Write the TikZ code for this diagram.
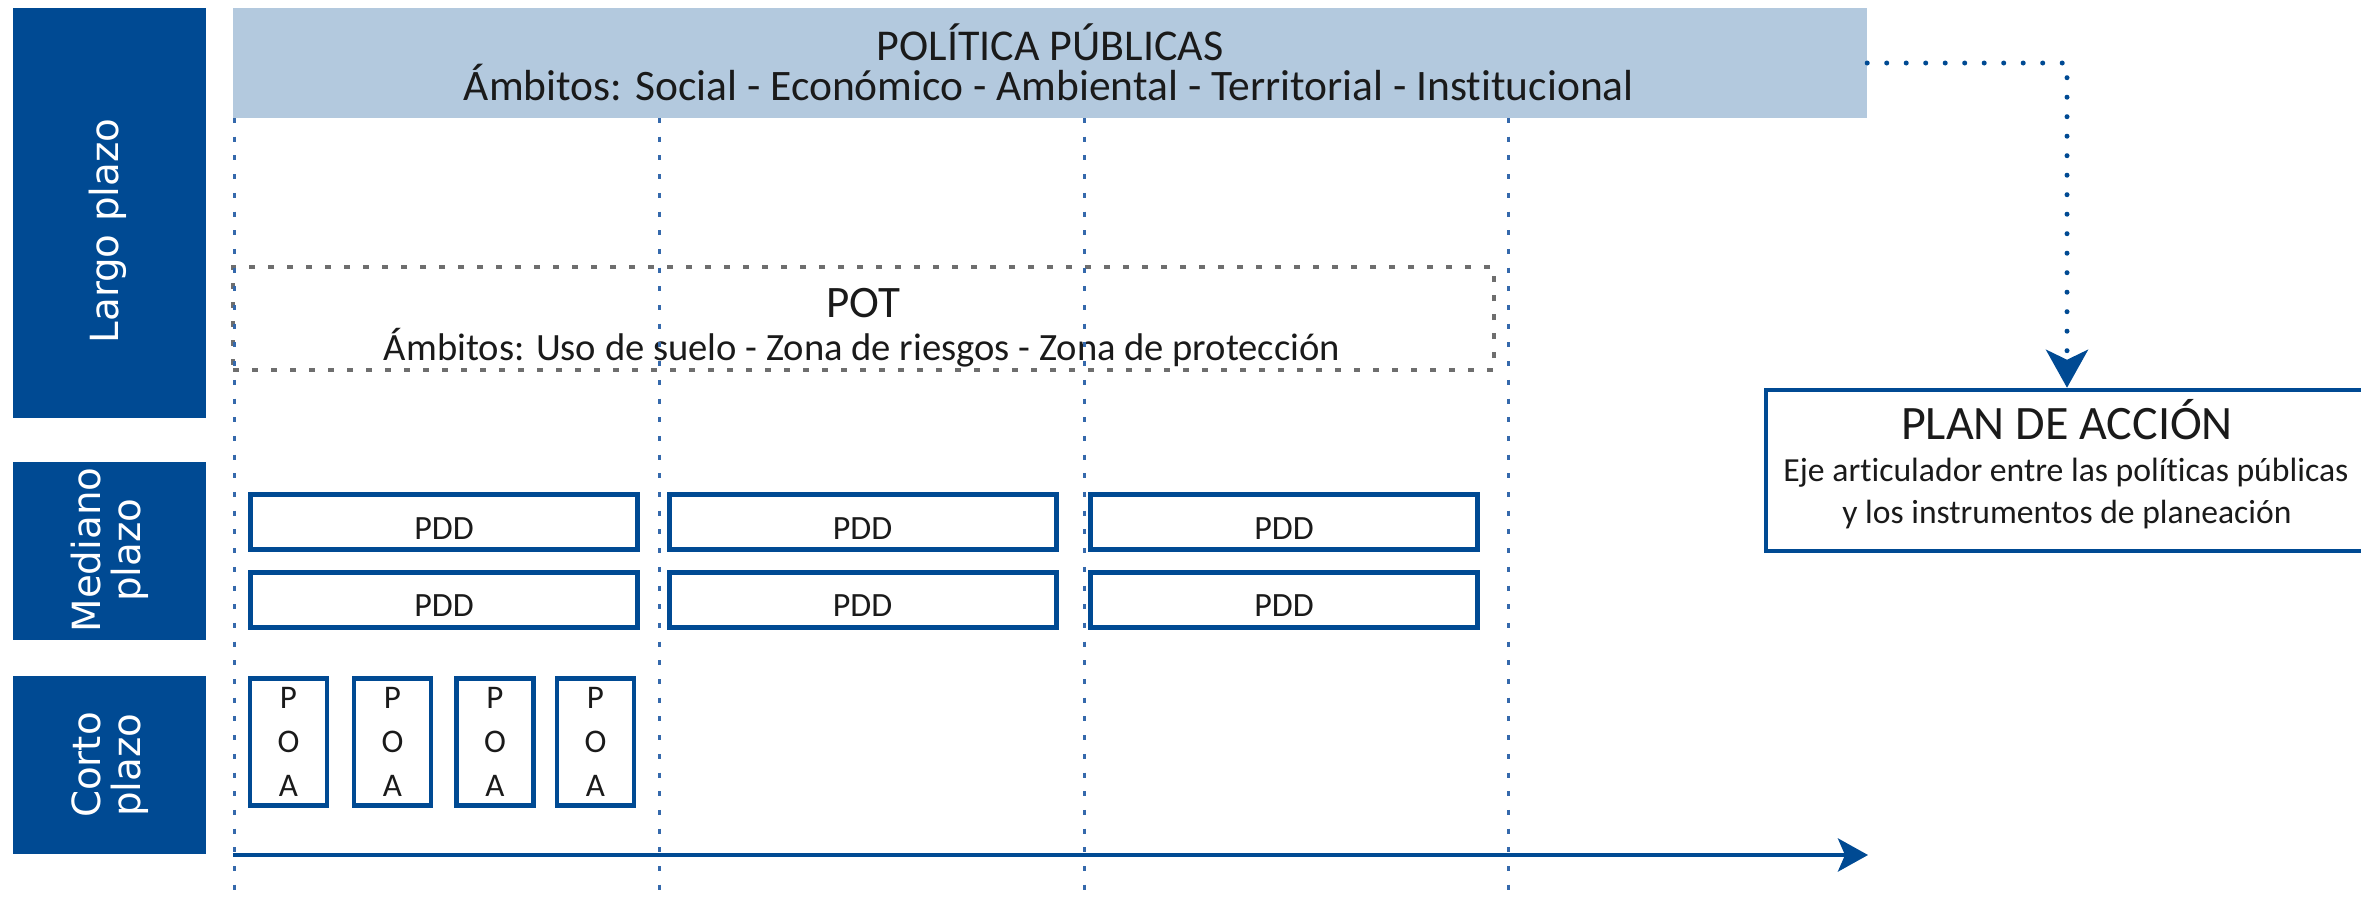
\documentclass[tikz,border=0pt]{standalone}
\usepackage{fontspec}
\setmainfont{Carlito}[Ligatures={NoCommon,NoContextual}]
\newfontfamily\verd{DejaVu Sans}
\usetikzlibrary{arrows.meta}
\definecolor{dblue}{HTML}{004A93}
\definecolor{hblue}{HTML}{B3C9DE}
\definecolor{vblue}{HTML}{3569AC}
\definecolor{potgray}{HTML}{6E6E6E}
\definecolor{txt}{HTML}{1A1A1A}
\begin{document}
\begin{tikzpicture}[x=1pt,y=-1pt,
  sidebox/.style={fill=dblue, inner sep=0pt, minimum width=193pt},
  sidelabel/.style={text=white, rotate=90, inner sep=0pt, align=center, font=\verd\fontsize{38.8}{40}\selectfont},
  pddbox/.style={draw=dblue, line width=5pt, minimum width=387pt, minimum height=55pt, inner sep=0pt, text=txt, text height=34pt, text depth=0pt, font=\fontsize{34}{34}\selectfont},
  poabox/.style={draw=dblue, line width=4.5pt, minimum width=77pt, minimum height=127pt, inner sep=0pt, text=txt, align=center, font=\fontsize{33}{44}\selectfont},
  potbox/.style={draw=potgray, line width=3.5pt, dash pattern=on 6pt off 13pt, inner sep=0pt},
  planbox/.style={draw=dblue, line width=4.5pt, fill=white, inner sep=0pt},
  basetext/.style={anchor=base, inner sep=0pt, text=txt},
  vdots/.style={draw=vblue, line width=3pt, dash pattern=on 5pt off 13.7pt},
  conn/.style={draw=dblue, line width=5pt, line cap=round, dash pattern=on 0pt off 19.5pt},
  timeline/.style={draw=dblue, line width=4.5pt}
]
\useasboundingbox (0,0) rectangle (2361,903);

% side boxes
\node[sidebox, minimum height=410pt] (largo) at (109,213) {};
\node[sidebox, minimum height=178pt] (mediano) at (109,551) {};
\node[sidebox, minimum height=178pt] (corto) at (109,765) {};
\node[sidelabel] (largoT) at (108,231) {Largo plazo};
\node[sidelabel] (medianoT) at (110,550) {Mediano\\plazo};
\node[sidelabel] (cortoT) at (110,765) {Corto\\plazo};

% header
\node[fill=hblue, inner sep=0pt, minimum width=1634pt, minimum height=110pt] (header) at (1050,63) {};
\node[basetext, font=\fontsize{44}{44}\selectfont] (h1) at (1050,60) {POLÍTICA PÚBLICAS};
\node[basetext, font=\fontsize{43.5}{44}\selectfont] (h2) at (1049,100) {Ámbitos: Social - Económico - Ambiental - Territorial - Institucional};

% POT
\node[potbox, minimum width=1261pt, minimum height=103pt] (pot) at (863.5,318.5) {};
\node[basetext, font=\fontsize{45}{45}\selectfont] (pott) at (863,317) {POT};
\node[basetext, font=\fontsize{38.6}{40}\selectfont] (pots) at (862,360) {Ámbitos: Uso de suelo - Zona de riesgos - Zona de protección};

% PDD
\node[pddbox] (pdd11) at (444,522) {PDD};
\node[pddbox] (pdd12) at (862.5,522) {PDD};
\node[pddbox] (pdd13) at (1284,522) {PDD};
\node[pddbox] (pdd21) at (444,599.5) {PDD};
\node[pddbox] (pdd22) at (862.5,599.5) {PDD};
\node[pddbox] (pdd23) at (1284,599.5) {PDD};

% POA
\node[poabox] (poa1) at (288.5,742) {P\\O\\A};
\node[poabox] (poa2) at (392.5,742) {P\\O\\A};
\node[poabox] (poa3) at (495,742) {P\\O\\A};
\node[poabox] (poa4) at (595.5,742) {P\\O\\A};

% plan de accion
\node[planbox, minimum width=602pt, minimum height=161pt] (plan) at (2067,470.5) {};
\node[basetext, font=\fontsize{48}{48}\selectfont] (plant) at (2067,439) {PLAN DE ACCIÓN};
\node[basetext, font=\fontsize{33.7}{40}\selectfont] (plan1) at (2066,481) {Eje articulador entre las políticas públicas};
\node[basetext, font=\fontsize{33.6}{40}\selectfont] (plan2) at (2067,523) {y los instrumentos de planeación};

% vertical dotted guides
\coordinate (v1t) at (234,118); \coordinate (v1b) at (234,903);
\coordinate (v2t) at (659,118); \coordinate (v2b) at (659,903);
\coordinate (v3t) at (1084,118); \coordinate (v3b) at (1084,903);
\coordinate (v4t) at (1508,118); \coordinate (v4b) at (1508,903);
\draw[vdots] (v1t) -- (v1b);
\draw[vdots] (v2t) -- (v2b);
\draw[vdots] (v3t) -- (v3b);
\draw[vdots] (v4t) -- (v4b);

% time axis
\coordinate (tstart) at (233,855);
\coordinate (tend) at (1868,855);
\draw[timeline, -{Stealth[length=30pt,width=33pt,inset=7pt]}] (tstart) -- (tend);

% connector
\draw[conn, -{Stealth[length=38pt,width=42pt,inset=10pt]}] (header.east) -| (plan.north);
\end{tikzpicture}
\end{document}
